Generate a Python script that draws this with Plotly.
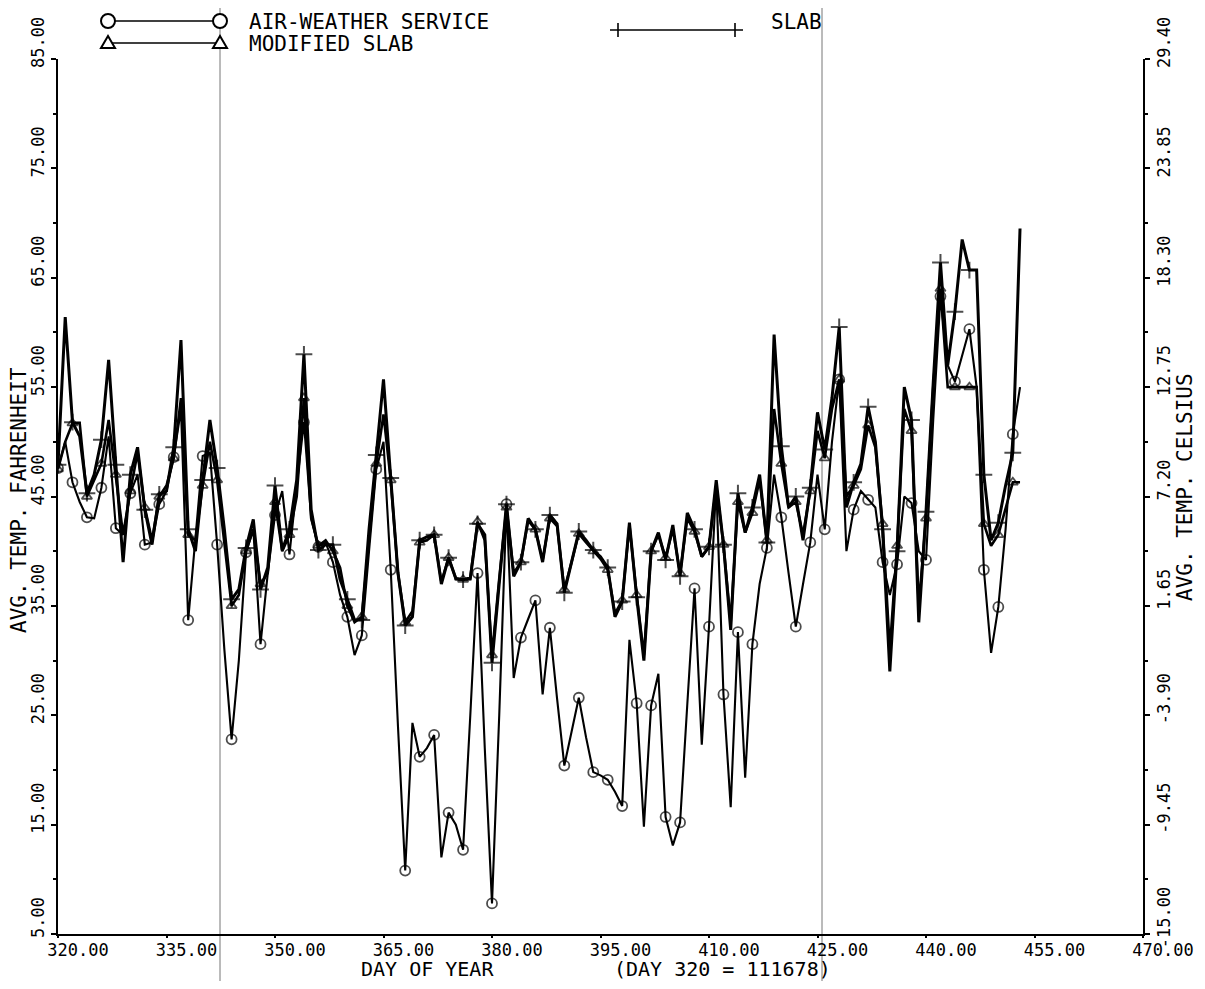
import plotly.graph_objects as go

# ---------------- data ----------------
days = list(range(320, 454))

air_weather = [
    47.6, 50.0, 46.3, 44.5, 43.1, 43.0, 45.8, 50.5, 42.1, 41.5,   # 320-329
    45.3, 47.0, 40.6, 40.8, 44.3, 45.5, 48.6, 53.0, 33.7, 41.0,   # 330-339
    48.7, 49.0, 40.6, 31.0, 22.8, 30.0, 39.9, 42.0, 31.5, 38.0,   # 340-349
    43.3, 45.5, 39.7, 46.0, 51.8, 43.0, 40.4, 40.8, 39.0, 36.0,   # 350-359
    34.0, 30.5, 32.3, 40.0, 47.5, 50.0, 38.3, 24.0, 10.8, 24.3,   # 360-369
    21.2, 22.0, 23.2, 12.0, 16.1, 15.0, 12.7, 25.0, 38.0, 22.0,   # 370-379
    7.8, 25.0, 44.3, 28.4, 32.1, 33.8, 35.5, 26.9, 33.0, 26.5,    # 380-389
    20.4, 23.5, 26.6, 23.0, 19.8, 19.5, 19.1, 18.0, 16.7, 31.9,   # 390-399
    26.1, 14.8, 25.9, 28.8, 15.7, 13.1, 15.2, 26.0, 36.6, 22.3,   # 400-409
    33.1, 46.1, 26.9, 16.6, 32.6, 19.3, 31.5, 37.0, 40.3, 47.0,   # 410-419
    43.1, 38.0, 33.1, 37.0, 40.8, 47.0, 42.0, 50.0, 55.7, 40.0,   # 420-429
    43.8, 45.5, 44.7, 44.0, 39.0, 36.0, 38.8, 45.0, 44.4, 40.0,   # 430-439
    39.2, 52.0, 63.3, 57.0, 55.5, 58.0, 60.3, 55.0, 38.3, 30.7,   # 440-449
    34.9, 42.0, 50.7, 55.0,                                       # 450-453
]

slab = [
    47.9, 61.4, 51.8, 50.5, 45.3, 47.0, 50.2, 57.5, 47.9, 39.0,   # 320-329
    47.0, 49.5, 43.8, 40.6, 45.2, 45.5, 49.5, 59.3, 42.0, 40.0,   # 330-339
    46.5, 52.0, 47.6, 42.0, 35.6, 36.5, 40.3, 42.9, 36.5, 38.5,   # 340-349
    46.0, 40.1, 42.0, 46.5, 58.0, 43.8, 40.1, 40.6, 40.6, 37.4,   # 350-359
    35.6, 33.7, 33.7, 42.0, 48.8, 55.7, 46.7, 38.0, 33.2, 34.0,   # 360-369
    41.0, 41.3, 41.5, 37.0, 39.4, 37.5, 37.4, 37.5, 42.5, 41.5,   # 370-379
    29.8, 37.0, 44.3, 37.7, 39.0, 43.0, 42.0, 39.0, 43.3, 42.5,   # 380-389
    36.2, 39.0, 41.8, 41.0, 40.1, 39.5, 38.5, 34.0, 35.4, 42.6,   # 390-399
    35.8, 30.0, 40.0, 41.7, 39.2, 42.4, 37.7, 43.5, 42.0, 39.5,   # 400-409
    40.4, 46.5, 40.6, 32.8, 45.3, 41.7, 44.0, 47.0, 40.8, 59.8,   # 410-419
    49.6, 44.0, 45.0, 41.0, 45.8, 52.7, 49.3, 54.0, 60.5, 44.0,   # 420-429
    46.3, 48.0, 53.2, 50.0, 42.0, 29.0, 40.0, 55.0, 52.0, 33.5,   # 430-439
    43.6, 55.4, 66.4, 57.0, 61.9, 68.5, 65.7, 65.7, 47.0, 41.0,   # 440-449
    42.6, 46.0, 49.0, 69.5,                                       # 450-453
]

modified_slab = [
    47.5, 50.0, 51.7, 51.7, 45.0, 46.5, 48.0, 52.0, 47.0, 41.5,   # 320-329
    45.5, 49.0, 44.0, 41.0, 45.0, 46.0, 48.5, 54.0, 41.5, 41.0,   # 330-339
    46.0, 50.0, 46.5, 41.0, 35.0, 36.0, 40.0, 42.0, 37.0, 38.0,   # 340-349
    44.5, 40.0, 41.5, 45.0, 54.0, 43.0, 40.5, 41.0, 40.0, 38.5,   # 350-359
    35.0, 33.5, 34.0, 41.0, 48.0, 52.5, 46.5, 38.0, 33.5, 34.5,   # 360-369
    40.8, 41.0, 41.5, 37.2, 39.4, 37.5, 37.4, 37.6, 42.7, 41.0,   # 370-379
    30.5, 37.5, 44.0, 38.0, 39.0, 42.8, 42.0, 39.2, 43.0, 42.3,   # 380-389
    36.5, 39.0, 41.6, 40.8, 40.0, 39.3, 38.3, 34.3, 35.5, 42.4,   # 390-399
    36.0, 30.5, 40.0, 41.5, 39.4, 42.0, 38.0, 43.0, 41.8, 39.5,   # 400-409
    40.4, 46.0, 40.6, 33.5, 44.5, 41.7, 43.5, 46.5, 41.0, 53.0,   # 410-419
    48.0, 44.0, 44.5, 41.5, 45.5, 51.0, 48.5, 53.0, 55.7, 45.0,   # 420-429
    46.0, 47.5, 51.5, 49.5, 42.5, 31.0, 40.5, 53.0, 51.0, 35.0,   # 430-439
    43.0, 55.0, 64.0, 55.0, 55.0, 55.0, 55.0, 55.0, 42.5, 40.5,   # 440-449
    41.5, 44.0, 46.3, 46.3,                                       # 450-453
]

x_ticks = [320, 335, 350, 365, 380, 395, 410, 425, 440, 455, 470]
x_tick_labels = ["320.00", "335.00", "350.00", "365.00", "380.00", "395.00",
                 "410.00", "425.00", "440.00", "455.00", "470.00"]
f_ticks = [5, 15, 25, 35, 45, 55, 65, 75, 85]
f_tick_labels = ["5.00", "15.00", "25.00", "35.00", "45.00", "55.00",
                 "65.00", "75.00", "85.00"]
c_tick_labels = ["-15.00", "-9.45", "-3.90", "1.65", "7.20", "12.75",
                 "18.30", "23.85", "29.40"]

# ---------------- layout helpers ----------------
OFF = 8                      # page body margin
W, H = 1205 - 2 * OFF, 989 - 2 * OFF
# plot area in screen pixels
SL, SR, ST, SB = 58, 1143, 59, 934
L, R, T, B = SL - OFF, SR - OFF, ST - OFF, SB - OFF
FONT = "DejaVu Sans Mono"


def px2x(sx):
    return (sx - SL) / (SR - SL)


def py2y(sy):
    return (SB - sy) / (SB - ST)


def msizes(size):
    return [size if d % 2 == 0 else 0 for d in days]


fig = go.Figure()

fig.add_trace(go.Scatter(
    x=days, y=air_weather, mode="lines+markers", name="AIR-WEATHER SERVICE",
    line=dict(color="black", width=2.1),
    marker=dict(symbol="circle-open", size=msizes(10), color="black",
                line=dict(width=1.8, color="black")),
))
fig.add_trace(go.Scatter(
    x=days, y=modified_slab, mode="lines+markers", name="MODIFIED SLAB",
    line=dict(color="black", width=2.6),
    marker=dict(symbol="triangle-up-open", size=msizes(9), color="black",
                line=dict(width=1.8, color="black")),
))
fig.add_trace(go.Scatter(
    x=days, y=slab, mode="lines+markers", name="SLAB",
    line=dict(color="black", width=3.0),
    marker=dict(symbol="cross-thin-open", size=msizes(12), color="black",
                line=dict(width=2, color="black")),
))
# invisible trace to carry the Celsius axis
fig.add_trace(go.Scatter(
    x=[days[0]], y=[air_weather[0]], yaxis="y2", mode="markers",
    marker=dict(opacity=0), hoverinfo="skip", showlegend=False,
))

shapes = []
# scan artefact vertical lines
for xv in (220, 822):
    shapes.append(dict(type="line", xref="paper", yref="paper",
                       x0=px2x(xv), x1=px2x(xv), y0=py2y(0), y1=py2y(995),
                       line=dict(color="#777777", width=1), layer="below"))


# legend glyphs
def circle(cx, cy, r=7):
    return dict(type="circle", xref="paper", yref="paper",
                x0=px2x(cx - r), x1=px2x(cx + r), y0=py2y(cy + r), y1=py2y(cy - r),
                line=dict(color="black", width=2), fillcolor="white")


def tri(cx, cy, r=7):
    path = "M {},{} L {},{} L {},{} Z".format(
        px2x(cx - r), py2y(cy + r * 0.7), px2x(cx + r), py2y(cy + r * 0.7),
        px2x(cx), py2y(cy - r))
    return dict(type="path", xref="paper", yref="paper", path=path,
                line=dict(color="black", width=2), fillcolor="white")


def hline(x0, x1, y, w=1.6):
    return dict(type="line", xref="paper", yref="paper",
                x0=px2x(x0), x1=px2x(x1), y0=py2y(y), y1=py2y(y),
                line=dict(color="black", width=w))


def vline(x, y0, y1, w=1.6):
    return dict(type="line", xref="paper", yref="paper",
                x0=px2x(x), x1=px2x(x), y0=py2y(y0), y1=py2y(y1),
                line=dict(color="black", width=w))


shapes += [hline(108, 220, 21), circle(108, 21), circle(220, 21)]
shapes += [hline(108, 220, 43), tri(108, 43), tri(220, 43)]
shapes += [hline(610, 743, 30), vline(618, 23, 37), vline(735, 23, 37)]

annotations = [
    dict(text="AIR-WEATHER SERVICE", x=px2x(248), y=py2y(22), xanchor="left", size=21),
    dict(text="MODIFIED SLAB", x=px2x(248), y=py2y(44), xanchor="left", size=21),
    dict(text="SLAB", x=px2x(770), y=py2y(22), xanchor="left", size=21),
    dict(text="DAY OF YEAR", x=px2x(427), y=py2y(969), xanchor="center", size=20),
    dict(text="(DAY 320 = 111678)", x=px2x(722), y=py2y(969), xanchor="center", size=20),
    dict(text="AVG. TEMP. FAHRENHEIT", x=px2x(19), y=py2y(500), textangle=-90,
         xanchor="center", size=21),
    dict(text="AVG. TEMP. CELSIUS", x=px2x(1185), y=py2y(487), textangle=-90,
         xanchor="center", size=21),
]
for a in annotations:
    size = a.pop("size")
    a.update(xref="paper", yref="paper", showarrow=False, yanchor="middle",
             borderpad=0, font=dict(family=FONT, size=size, color="black"))

axis_common = dict(showgrid=False, zeroline=False, showline=True, linecolor="black",
                   linewidth=2, ticks="outside", tickcolor="black", tickwidth=1.5,
                   automargin=False,
                   tickfont=dict(family=FONT, size=17, color="black"))

fig.update_layout(
    width=W, height=H,
    margin=dict(l=L, r=W - R, t=T, b=H - B, pad=0, autoexpand=False),
    paper_bgcolor="white", plot_bgcolor="white",
    showlegend=False,
    xaxis=dict(range=[320, 470], tickvals=x_ticks, ticktext=x_tick_labels,
               ticklen=2, ticklabelshift=20, ticklabelstandoff=-2, **axis_common),
    yaxis=dict(range=[5, 85], tickvals=f_ticks, ticktext=f_tick_labels,
               tickangle=-90, ticklen=5, ticklabelshift=-14,
               minor=dict(tickvals=[10, 20, 30, 40, 50, 60, 70, 80], ticklen=3,
                          ticks="outside", tickcolor="black"),
               **axis_common),
    yaxis2=dict(range=[5, 85], tickvals=f_ticks, ticktext=c_tick_labels,
                overlaying="y", side="right", tickangle=-90, ticklen=5,
                ticklabelshift=-14,
                minor=dict(tickvals=[10, 20, 30, 40, 50, 60, 70, 80], ticklen=3,
                           ticks="outside", tickcolor="black"),
                **axis_common),
    shapes=shapes,
    annotations=annotations,
)

fig.write_html("out.html")
